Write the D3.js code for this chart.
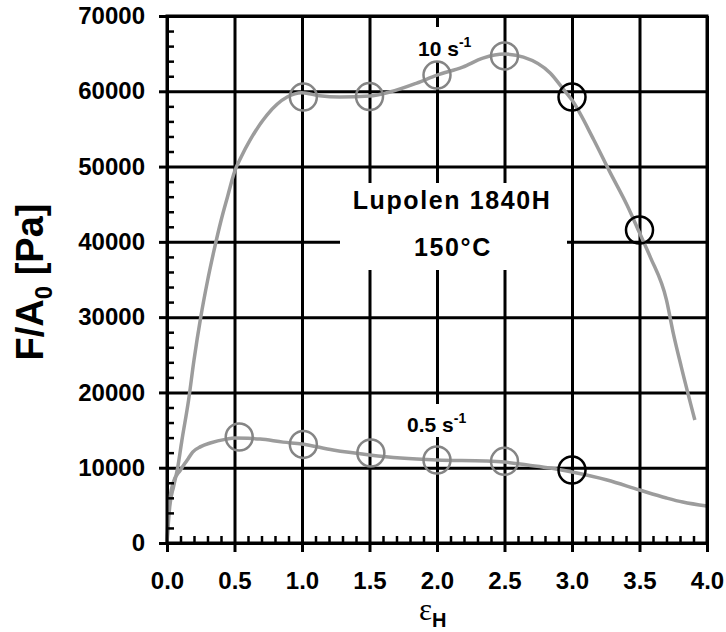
<!DOCTYPE html>
<html><head><meta charset="utf-8">
<script src="https://cdn.jsdelivr.net/npm/d3@7"></script>
<style>
body{margin:0;background:#fff;}
svg text{font-family:"Liberation Sans",Arial,sans-serif;}
</style></head>
<body><svg id="c" width="726" height="632"></svg>
<script>
// ---- data ----
const xTicks = [0, 0.5, 1.0, 1.5, 2.0, 2.5, 3.0, 3.5, 4.0];
const yTicks = [0, 10000, 20000, 30000, 40000, 50000, 60000, 70000];

const eps10 = [0, 0.02, 0.05, 0.08, 0.11, 0.16, 0.20, 0.25, 0.30, 0.35, 0.40, 0.45, 0.50, 0.55, 0.615, 0.74, 0.89, 1.0, 1.13, 1.28, 1.5, 1.65, 1.85, 2.0, 2.19, 2.34, 2.5, 2.64, 2.84, 2.93, 3.0, 3.16, 3.28, 3.41, 3.5, 3.58, 3.70, 3.75, 3.81, 3.91];
const f10 = [0, 4800, 7600, 10100, 13600, 19000, 24300, 30000, 34800, 39000, 42800, 46100, 49300, 51300, 53500, 56840, 59230, 59800, 59400, 59230, 59360, 59900, 61090, 62150, 63210, 64400, 64940, 64540, 62400, 60420, 58830, 53600, 49300, 44800, 41200, 37980, 32270, 27890, 23370, 16330];

const eps05 = [0, 0.01, 0.045, 0.1, 0.15, 0.19, 0.25, 0.32, 0.44, 0.5, 0.6, 0.69, 0.86, 1.0, 1.23, 1.5, 1.73, 2.0, 2.36, 2.5, 2.67, 2.84, 3.0, 3.26, 3.5, 3.70, 3.82, 4.0];
const f05 = [0, 4000, 7970, 9700, 11020, 12080, 12800, 13280, 13800, 13950, 13900, 13800, 13400, 13150, 12350, 11700, 11290, 11020, 10890, 10750, 10360, 9960, 9430, 8370, 7040, 5980, 5440, 4910];

const circEps10 = [1.01, 1.5, 2.0, 2.5, 3.0, 3.5];
const circF10 = [59230, 59300, 62150, 64700, 59230, 41570];
const circBlack10 = [false, false, false, false, true, true];

const circEps05 = [0.535, 1.01, 1.51, 2.0, 2.5, 3.0];
const circF05 = [14080, 13100, 11950, 11020, 10850, 9700];
const circBlack05 = [false, false, false, false, false, true];

const labelRate10 = "10 s";
const labelRate05 = "0.5 s";
const labelMaterial = "Lupolen 1840H";
const labelTemp = "150°C";

// ---- drawing ----
const svg = d3.select("#c");
const L = 167, R = 707, T = 16, B = 543;
const x = d3.scaleLinear().domain([0, 4]).range([L, R]);
const y = d3.scaleLinear().domain([0, 70000]).range([B, T]);

const minorX = d3.range(0, 40).map(i => i / 10).filter(v => Math.abs(v * 2 - Math.round(v * 2)) > 1e-6);
const minorY = d3.range(0, 35).map(i => i * 2000).filter(v => v % 10000 !== 0);

function styleAxis(g, w) {
  g.select(".domain").remove();
  g.selectAll(".tick line").attr("stroke", "#000").attr("stroke-width", w);
}

// gridlines
svg.append("g").attr("transform", `translate(${L},0)`)
  .call(d3.axisRight(y).tickValues(yTicks).tickSize(R - L).tickFormat(""))
  .call(g => styleAxis(g, 3));
svg.append("g").attr("transform", `translate(0,${B})`)
  .call(d3.axisTop(x).tickValues(xTicks).tickSize(B - T).tickFormat(""))
  .call(g => styleAxis(g, 3));

// white label boxes
svg.append("rect").attr("x", 340).attr("y", 183).attr("width", 227).attr("height", 87).attr("fill", "#fff");
svg.append("rect").attr("x", 412).attr("y", 27).attr("width", 64).attr("height", 34).attr("fill", "#fff");
svg.append("rect").attr("x", 403).attr("y", 404).attr("width", 72).attr("height", 33).attr("fill", "#fff");

// curves
const line = d3.line().x(d => x(d[0])).y(d => y(d[1])).curve(d3.curveMonotoneX);
svg.append("path").datum(eps05.map((e, i) => [e, f05[i]]))
  .attr("d", line).attr("fill", "none").attr("stroke", "#9c9c9c").attr("stroke-width", 3.5);
svg.append("path").datum(eps10.map((e, i) => [e, f10[i]]))
  .attr("d", line).attr("fill", "none").attr("stroke", "#9c9c9c").attr("stroke-width", 3.5);

// circles
function circles(es, fs, bl) {
  svg.append("g").selectAll("circle").data(es.map((e, i) => [e, fs[i], bl[i]])).join("circle")
    .attr("cx", d => x(d[0])).attr("cy", d => y(d[1])).attr("r", 13.5)
    .attr("fill", "none").attr("stroke", d => d[2] ? "#000" : "#858585").attr("stroke-width", 2.5);
}
circles(circEps10, circF10, circBlack10);
circles(circEps05, circF05, circBlack05);

// axes
svg.append("g").attr("transform", `translate(${L},0)`)
  .call(d3.axisLeft(y).tickValues(yTicks).tickSize(8).tickPadding(14).tickFormat(d3.format("d")))
  .call(g => { styleAxis(g, 3); g.selectAll("text").attr("font-size", 24).attr("font-weight", "bold").attr("fill", "#000").style("font-family", '"Liberation Sans",Arial'); });
svg.append("g").attr("transform", `translate(${L},0)`)
  .call(d3.axisRight(y).tickValues(minorY).tickSize(7).tickFormat(""))
  .call(g => styleAxis(g, 2.5));
svg.append("g").attr("transform", `translate(0,${B})`)
  .call(d3.axisBottom(x).tickValues(xTicks).tickSize(9).tickPadding(20).tickFormat(d3.format(".1f")))
  .call(g => { styleAxis(g, 3); g.selectAll("text").attr("font-size", 24).attr("font-weight", "bold").attr("fill", "#000").style("font-family", '"Liberation Sans",Arial'); });
svg.append("g").attr("transform", `translate(0,${B})`)
  .call(d3.axisTop(x).tickValues(minorX).tickSize(7).tickFormat(""))
  .call(g => styleAxis(g, 2.5));

// frame
svg.append("rect").attr("x", L).attr("y", T).attr("width", R - L).attr("height", B - T)
  .attr("fill", "none").attr("stroke", "#000").attr("stroke-width", 3);

// annotations
function rateLabel(tx, ty, txt) {
  const t = svg.append("text").attr("x", tx).attr("y", ty).attr("font-size", 21).attr("font-weight", "bold");
  t.append("tspan").text(txt);
  t.append("tspan").attr("font-size", 14).attr("dy", -9).text("-1");
}
rateLabel(418, 56, labelRate10);
rateLabel(407, 432, labelRate05);

svg.append("text").attr("x", 452).attr("y", 209).attr("text-anchor", "middle")
  .attr("font-size", 25).attr("font-weight", "bold").attr("letter-spacing", 1.6).text(labelMaterial);
svg.append("text").attr("x", 453).attr("y", 256).attr("text-anchor", "middle")
  .attr("font-size", 25).attr("font-weight", "bold").attr("letter-spacing", 1.6).text(labelTemp);

// axis titles
const yt = svg.append("text").attr("transform", "translate(43,282) rotate(-90)").attr("text-anchor", "middle")
  .attr("font-size", 38).attr("font-weight", "bold");
yt.append("tspan").text("F/A");
yt.append("tspan").attr("font-size", 24).attr("dy", 9).text("0");
yt.append("tspan").attr("dy", -9).text(" [Pa]");

const xt = svg.append("text").attr("x", 419).attr("y", 620);
xt.append("tspan").attr("font-size", 31).style("font-family", '"Liberation Serif","Times New Roman",serif').text("ε");
xt.append("tspan").attr("font-size", 20).attr("font-weight", "bold").attr("dy", 7).text("H");
</script></body></html>
